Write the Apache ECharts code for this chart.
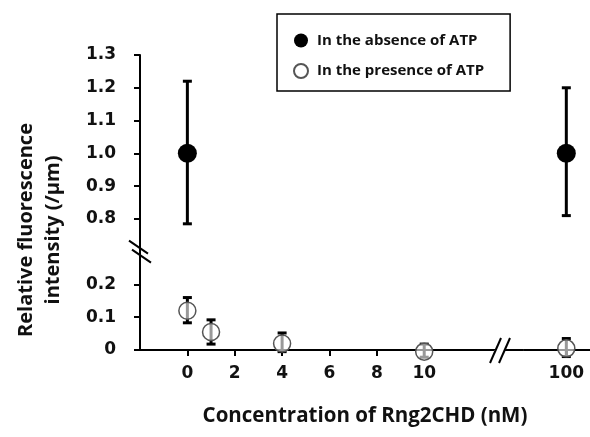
<!DOCTYPE html>
<html><head><meta charset="utf-8">
<script src="https://cdn.jsdelivr.net/npm/echarts@6/dist/echarts.min.js"></script>
<style>html,body{margin:0;padding:0;background:#fff}#c{width:590px;height:437px}</style>
</head><body><div id="c"></div>
<script>
// ---- data ----
const absenceName = 'In the absence of ATP';
const presenceName = 'In the presence of ATP';
const absenceX = [0, 100];
const absenceY = [1.0, 1.0];
const absenceLow = [0.785, 0.81];
const absenceHigh = [1.22, 1.20];
const presenceX = [0, 1, 4, 10, 100];
const presenceY = [0.12, 0.055, 0.02, -0.005, 0.005];
const presenceLow = [0.083, 0.018, -0.005, -0.022, -0.02];
const presenceHigh = [0.16, 0.092, 0.052, 0.018, 0.035];
const xTicks = [0, 2, 4, 6, 8, 10, 100];
const yTicks = [0, 0.1, 0.2, 0.8, 0.9, 1.0, 1.1, 1.2, 1.3];
const xBreak = { start: 12.2, end: 98.2, gap: 2 };
const yBreak = { start: 0.25, end: 0.75, gap: 0.1 };

const FONT = '"Open Sans", "Liberation Sans", sans-serif';
const TICKFONT = '"DejaVu Sans", sans-serif';
const chart = echarts.init(document.getElementById('c'), null, { renderer: 'canvas' });

function zip(xs, ys) { return xs.map((x, i) => [x, ys[i]]); }
function zipErr(xs, lo, hi) { return xs.map((x, i) => [x, lo[i], hi[i]]); }

function errRender(params, api) {
  const x = api.value(0), lo = api.value(1), hi = api.value(2);
  const pl = api.coord([x, lo]), ph = api.coord([x, hi]);
  const cw = 4.5;
  const st = { stroke: '#000', lineWidth: 3 };
  return {
    type: 'group',
    children: [
      { type: 'line', shape: { x1: pl[0], y1: pl[1], x2: ph[0], y2: ph[1] }, style: st },
      { type: 'line', shape: { x1: pl[0] - cw, y1: pl[1], x2: pl[0] + cw, y2: pl[1] }, style: st },
      { type: 'line', shape: { x1: ph[0] - cw, y1: ph[1], x2: ph[0] + cw, y2: ph[1] }, style: st }
    ]
  };
}

const option = {
  animation: false,
  backgroundColor: '#fff',
  grid: { left: 140, right: 0, top: 55, bottom: 87, containLabel: false },
  legend: {
    orient: 'vertical',
    left: 277, top: 14,
    padding: [19, 26, 12, 16],
    itemGap: 15,
    itemWidth: 14, itemHeight: 14,
    borderColor: '#000', borderWidth: 1.5,
    icon: 'circle',
    textStyle: { fontFamily: FONT, fontWeight: 'bold', fontSize: 15, color: '#111', padding: [0, 0, 0, 4] },
    data: [absenceName, presenceName]
  },
  xAxis: {
    type: 'value', min: -2, max: 101,
    breaks: [xBreak],
    breakArea: { show: false },
    axisLine: { onZero: false, lineStyle: { color: '#000', width: 2 } },
    axisTick: { show: true, customValues: xTicks, length: 6, lineStyle: { width: 2, color: '#000' } },
    axisLabel: { customValues: xTicks, margin: 15, fontFamily: TICKFONT, fontWeight: 'bold', fontSize: 17, color: '#111' },
    splitLine: { show: false },
    name: 'Concentration of Rng2CHD (nM)',
    nameLocation: 'middle', nameGap: 56,
    nameTextStyle: { fontFamily: FONT, fontWeight: 'bold', fontSize: 20.5, color: '#111' }
  },
  yAxis: {
    type: 'value', min: 0, max: 1.3,
    breaks: [yBreak],
    breakArea: { show: false },
    axisLine: { show: true, onZero: false, lineStyle: { color: '#000', width: 2 } },
    axisTick: { show: true, customValues: yTicks, length: 6, lineStyle: { width: 2, color: '#000' } },
    axisLabel: {
      customValues: yTicks, margin: 24,
      formatter: v => (Math.abs(v) < 1e-9 ? '0' : Number(v).toFixed(1)),
      fontFamily: TICKFONT, fontWeight: 'bold', fontSize: 17, color: '#111'
    },
    splitLine: { show: false }
  },
  series: [
    { type: 'custom', name: 'errAbs', renderItem: errRender, data: zipErr(absenceX, absenceLow, absenceHigh), z: 2, clip: false },
    { type: 'custom', name: 'errPres', renderItem: errRender, data: zipErr(presenceX, presenceLow, presenceHigh), z: 2, clip: false },
    { type: 'scatter', name: absenceName, data: zip(absenceX, absenceY), symbol: 'circle', symbolSize: 19,
      itemStyle: { color: '#000', opacity: 1 }, z: 3, clip: false },
    { type: 'scatter', name: presenceName, data: zip(presenceX, presenceY), symbol: 'circle', symbolSize: 17,
      itemStyle: { color: 'rgba(255,255,255,0.6)', borderColor: '#555', borderWidth: 1.5, opacity: 1 }, z: 3, clip: false }
  ]
};
chart.setOption(option);

// break marks placed at the break positions computed by the axes
const yA = chart.convertToPixel({ yAxisIndex: 0 }, yBreak.start);
const yB = chart.convertToPixel({ yAxisIndex: 0 }, yBreak.end);
const yMid = (yA + yB) / 2;
const yAxisX = chart.convertToPixel({ xAxisIndex: 0 }, -2);
const xA = chart.convertToPixel({ xAxisIndex: 0 }, xBreak.start);
const xB = chart.convertToPixel({ xAxisIndex: 0 }, xBreak.end);
const xMid = (xA + xB) / 2;
const xAxisY = chart.convertToPixel({ yAxisIndex: 0 }, 0);
const ls = { stroke: '#000', lineWidth: 2 };
chart.setOption({
  graphic: [
    { type: 'line', shape: { x1: yAxisX, y1: yA, x2: yAxisX, y2: yB }, style: ls, z: 8 },
    { type: 'line', shape: { x1: xA, y1: xAxisY, x2: xB, y2: xAxisY }, style: ls, z: 8 },
    { type: 'line', shape: { x1: yAxisX - 5, y1: xAxisY, x2: yAxisX, y2: xAxisY }, style: ls, z: 8 },
    { type: 'line', shape: { x1: yAxisX - 11, y1: yMid - 11, x2: yAxisX + 8, y2: yMid + 2 }, style: ls, z: 10 },
    { type: 'line', shape: { x1: yAxisX - 8, y1: yMid - 2, x2: yAxisX + 11, y2: yMid + 11 }, style: ls, z: 10 },
    { type: 'polygon', shape: { points: [[xMid - 9, xAxisY + 3], [xMid + 1, xAxisY + 3], [xMid + 9, xAxisY - 3], [xMid - 1, xAxisY - 3]] }, style: { fill: '#fff' }, z: 9 },
    { type: 'line', shape: { x1: xMid - 10, y1: xAxisY + 13, x2: xMid + 1, y2: xAxisY - 12 }, style: ls, z: 10 },
    { type: 'line', shape: { x1: xMid - 1, y1: xAxisY + 13, x2: xMid + 10, y2: xAxisY - 12 }, style: ls, z: 10 },
    { type: 'text', x: 40, y: 230, rotation: Math.PI / 2,
      style: { text: 'Relative fluorescence\nintensity (/\u00b5m)', align: 'center', verticalAlign: 'middle',
        font: 'bold 20px ' + FONT, lineHeight: 27, fill: '#111' } }
  ]
});
</script>
</body></html>
